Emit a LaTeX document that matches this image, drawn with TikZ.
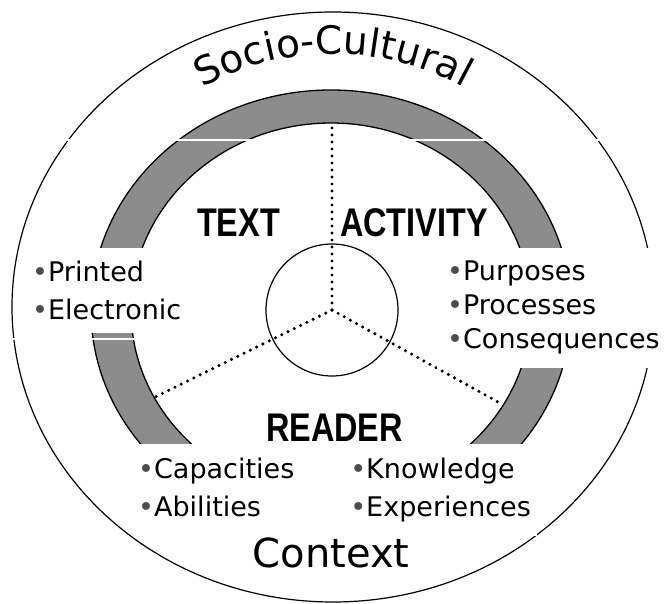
\documentclass[tikz,border=0pt]{standalone}
\usepackage{fontspec}
\setmainfont{DejaVu Sans}
\newfontfamily\headfont[FakeStretch=0.81]{Liberation Sans}
\usetikzlibrary{positioning, decorations.text}

\newcommand{\itm}{{\color{black!70}\textbullet}}

\begin{document}
\begin{tikzpicture}[
    x=1pt, y=1pt,
    rim/.style={draw=black, line width=1.2pt},
    band/.style={draw=black, line width=1.3pt, fill=black!45, even odd rule},
    seam/.style={draw=white, line width=2.4pt},
    hub/.style={circle, draw=black, line width=1.2pt, minimum size=132pt, inner sep=0pt},
    spoke/.style={line width=3.4pt, line cap=round, dash pattern=on 0pt off 7pt},
    head/.style={font=\headfont\bfseries\fontsize{40}{40}\selectfont, inner sep=0pt},
    items/.style={fill=white, align=left, font=\fontsize{27}{38}\selectfont, inner xsep=10pt, inner ysep=13pt},
    ctx/.style={font=\fontsize{40}{40}\selectfont, inner sep=0pt}
  ]
  \useasboundingbox (0,0) rectangle (666,603);
  % context ring and the gray band
  \draw[rim] (333,296) ellipse [x radius=321, y radius=295];
  \path[band] (331,293) ellipse [x radius=240, y radius=220]
              (331,293) ellipse [x radius=200, y radius=187];
  % thin cuts through band and ring
  \draw[seam] (0,463) -- (666,463);
  \draw[seam] (0,264) -- (140,264);
  % hub with three dotted spokes
  \node[hub] (hub) at (332,293) {};
  \coordinate (tip1) at (332,478);
  \coordinate (tip2) at (153,205);
  \coordinate (tip3) at (498,201);
  \foreach \t in {tip1,tip2,tip3}
    \draw[spoke] (hub.center) -- (\t);
  % headings
  \node[head, anchor=base west] (text) at (197,366) {TEXT};
  \node[head, anchor=base west] (activity) at (340,366) {ACTIVITY};
  % bullet lists, their white boxes break the band
  \node[items, anchor=north west] (textlist) at (22,355)
    {\itm Printed\\\itm Electronic};
  \node[items, anchor=north west, font=\fontsize{27}{34}\selectfont] (actlist) at (437,355)
    {\itm Purposes\\\itm Processes\\\itm Consequences};
  \node[items, inner xsep=6pt, inner ysep=8pt, anchor=north west] (readlist) at (132,159)
    {\begin{tabular}{@{}l@{\hspace{56pt}}l@{}}
       \itm Capacities & \itm Knowledge\\
       \itm Abilities  & \itm Experiences
     \end{tabular}};
  \node[head, above=2pt of readlist] (reader) {READER};
  % outer labels
  \path[decorate, decoration={text along path, text align=center,
      text={|\fontsize{39}{39}\selectfont|Socio-Cultural}}]
    (333,279) ++(126:270) arc [start angle=126, end angle=54, radius=270];
  \node[ctx, anchor=base] (context) at (331,36) {Context};
\end{tikzpicture}
\end{document}
